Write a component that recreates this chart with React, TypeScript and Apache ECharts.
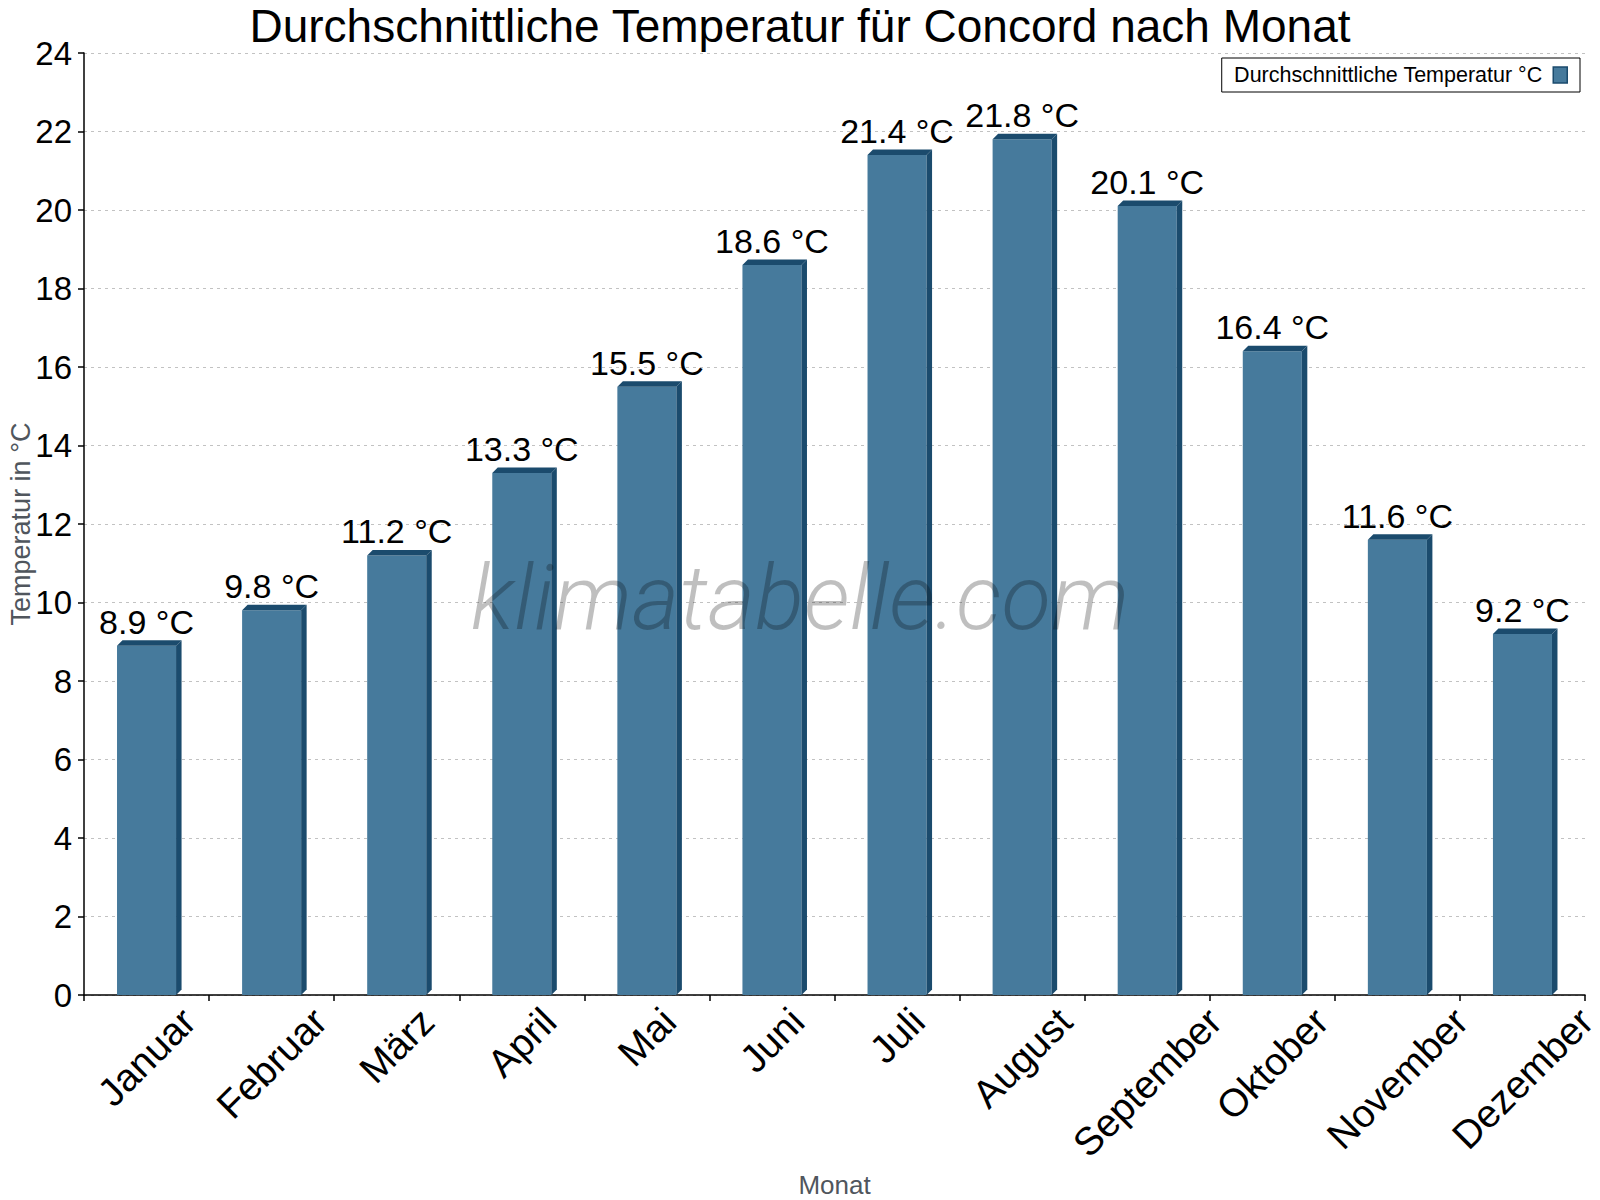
import React, { useEffect, useRef } from 'react';
import * as echarts from 'echarts';

const MONTHS = ['Januar', 'Februar', 'März', 'April', 'Mai', 'Juni', 'Juli', 'August', 'September', 'Oktober', 'November', 'Dezember'];
const TEMPS = [8.9, 9.8, 11.2, 13.3, 15.5, 18.6, 21.4, 21.8, 20.1, 16.4, 11.6, 9.2];
const Y_TICKS = [0, 24, 2]; // min, max, interval

const SERIES_NAME = 'Durchschnittliche Temperatur °C';
const FONT = '"Liberation Sans", Arial, sans-serif';
const FRONT = '#467a9c';
const DARK = '#1b4b6d';
const NAME_COLOR = '#50565d';
const X_FONT = 39;
const LABEL_TOP = 6;
const DEPTH = 5.5;
const BAR_RATIO = 0.472;

const measure = (txt: string, size: number) => {
  const ctx = document.createElement('canvas').getContext('2d');
  if (!ctx) return txt.length * size * 0.55;
  ctx.font = `${size}px "Liberation Sans", Arial`;
  return ctx.measureText(txt).width;
};

const App = (): JSX.Element => {
  const divEL = useRef<HTMLDivElement>(null);

  useEffect(() => {
    const instance = echarts.init(divEL.current as any, null, { renderer: 'svg' });
    const widths = MONTHS.map((m) => measure(m, X_FONT));

    const option: any = {
      animation: false,
      backgroundColor: '#fff',
      textStyle: { fontFamily: FONT },
      title: {
        text: 'Durchschnittliche Temperatur für Concord nach Monat',
        left: 'center',
        top: 3,
        padding: 0,
        textStyle: { fontSize: 46, fontWeight: 'normal', color: '#000', fontFamily: FONT },
      },
      legend: {
        data: [SERIES_NAME],
        right: 20,
        top: 58,
        align: 'right',
        borderColor: '#000',
        borderWidth: 1,
        padding: [6, 12, 6, 12],
        itemWidth: 14,
        itemHeight: 16,
        icon: 'rect',
        itemStyle: { borderColor: DARK, borderWidth: 1.5 },
        textStyle: { fontSize: 21.5, color: '#000', fontFamily: FONT, padding: [0, 6, 0, 0] },
      },
      grid: { left: 84, right: 15, top: 53, bottom: 205, containLabel: false, outerBoundsMode: 'none' },
      xAxis: {
        type: 'category',
        data: MONTHS,
        name: 'Monat',
        nameLocation: 'middle',
        nameGap: 177,
        nameMoveOverlap: false,
        nameTextStyle: { fontSize: 26, color: NAME_COLOR, fontFamily: FONT },
        axisLine: { lineStyle: { color: '#000', width: 1.5 } },
        axisTick: { show: true, length: 6, lineStyle: { color: '#000', width: 1.5 } },
        axisLabel: { show: false },
        splitLine: { show: false },
      },
      yAxis: {
        type: 'value',
        min: Y_TICKS[0],
        max: Y_TICKS[1],
        interval: Y_TICKS[2],
        name: 'Temperatur in °C',
        nameLocation: 'middle',
        nameGap: 50,
        nameMoveOverlap: false,
        nameTextStyle: { fontSize: 27, color: NAME_COLOR, fontFamily: FONT },
        axisLine: { show: true, lineStyle: { color: '#000', width: 1.5 } },
        axisTick: { show: true, length: 6, lineStyle: { color: '#000', width: 1.5 } },
        axisLabel: { fontSize: 33, color: '#000', margin: 12, fontFamily: FONT },
        splitLine: { lineStyle: { color: '#c2c2c2', type: [3, 4], width: 1 } },
      },
      graphic: [
        {
          type: 'text',
          z: 100,
          style: {
            x: 800,
            y: 598,
            text: 'klimatabelle.com',
            align: 'center',
            verticalAlign: 'middle',
            fontFamily: 'Roboto',
            fontStyle: 'italic',
            fontWeight: 300,
            fontSize: 91,
            fill: 'rgba(0,0,0,0.25)',
          },
        },
      ],
      series: [
        {
          name: SERIES_NAME,
          type: 'bar',
          data: TEMPS,
          barWidth: BAR_RATIO * 100 + '%',
          itemStyle: { color: FRONT },
          label: {
            show: true,
            position: 'top',
            distance: 7,
            formatter: '{c} °C',
            fontSize: 34,
            color: '#000',
            fontFamily: FONT,
          },
        },
        {
          name: 'depth',
          type: 'custom',
          data: TEMPS.map((v, i) => [i, v]),
          encode: { x: 0, y: 1 },
          z: 3,
          renderItem: (params: any, api: any) => {
            const top = api.coord([api.value(0), api.value(1)]);
            const base = api.coord([api.value(0), 0]);
            const hw = (api.size([1, 0])[0] * BAR_RATIO) / 2;
            const l = top[0] - hw;
            const r = top[0] + hw;
            const t = top[1];
            const b = base[1];
            const d = DEPTH;
            return {
              type: 'group',
              children: [
                { type: 'polygon', shape: { points: [[l, t], [l + d, t - d], [r + d, t - d], [r, t]] }, style: { fill: DARK } },
                { type: 'polygon', shape: { points: [[r, t], [r + d, t - d], [r + d, b - d], [r, b]] }, style: { fill: DARK } },
              ],
            };
          },
        },
        {
          // month labels, rotated 45° and centred under each bar
          name: 'months',
          type: 'custom',
          data: MONTHS.map((m, i) => [i, 0]),
          encode: { x: 0, y: 1 },
          clip: false,
          silent: true,
          renderItem: (params: any, api: any) => {
            const p = api.coord([api.value(0), 0]);
            const i = params.dataIndex;
            const s = 0.3536 * (widths[i] + X_FONT);
            return {
              type: 'text',
              x: p[0],
              y: p[1] + LABEL_TOP + s,
              rotation: Math.PI / 4,
              style: {
                text: MONTHS[i],
                align: 'center',
                verticalAlign: 'middle',
                fontSize: X_FONT,
                fontFamily: FONT,
                fill: '#000',
              },
            };
          },
        },
      ],
    };

    instance.setOption(option);

    return () => {
      instance.dispose();
    };
  }, []);

  return <div ref={divEL} style={{ position: 'fixed', left: 0, top: 0, width: 1600, height: 1200 }}></div>;
};

export default App;
